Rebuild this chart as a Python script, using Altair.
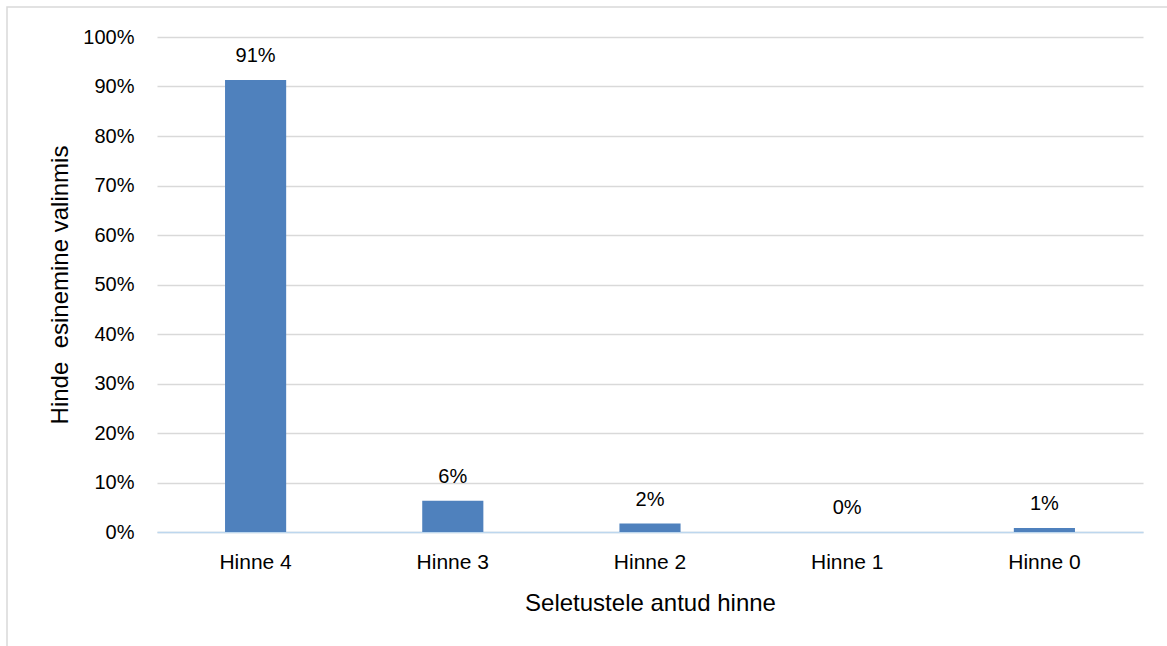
import altair as alt
import pandas as pd

categories = ["Hinne 4", "Hinne 3", "Hinne 2", "Hinne 1", "Hinne 0"]
values = [0.913, 0.063, 0.017, 0.0, 0.008]

df = pd.DataFrame({"cat": categories, "val": values})

FONT = "Liberation Sans"
W, H = 986, 495
PL, PT, PR, PB = 157, 37, 24, 114

base = alt.Chart(df)

x = alt.X(
    "cat:N",
    sort=categories,
    scale=alt.Scale(paddingInner=0.69, paddingOuter=0.345),
    axis=alt.Axis(
        title="Seletustele antud hinne",
        labelAngle=0,
        ticks=False,
        labelPadding=19,
        labelFontSize=21,
        labelFont=FONT,
        labelColor="#000000",
        domainColor="#BDD7EE",
        domainWidth=1.5,
        titleFontSize=24,
        titleFont=FONT,
        titleFontWeight="normal",
        titleColor="#000000",
        titleY=71,
        titleBaseline="middle",
    ),
)

y = alt.Y(
    "val:Q",
    scale=alt.Scale(domain=[0, 1]),
    axis=alt.Axis(
        title="Hinde\u00a0 esinemine valinmis",
        format=".0%",
        values=[i / 10 for i in range(11)],
        domain=False,
        ticks=False,
        labelPadding=23,
        labelFontSize=20,
        labelFont=FONT,
        labelColor="#000000",
        gridColor="#D9D9D9",
        gridWidth=1.3,
        titleFontSize=24,
        titleFont=FONT,
        titleFontWeight="normal",
        titleColor="#000000",
        titleX=-97,
        titleY=H / 2,
        titleAngle=-90,
        titleBaseline="middle",
        titleAlign="center",
    ),
)

bars = base.mark_bar(color="#4F81BD").encode(x=x, y=y)

labels = base.mark_text(
    dy=-24, baseline="middle", fontSize=20, font=FONT, color="#000000"
).encode(
    x=alt.X("cat:N", sort=categories),
    y=alt.Y("val:Q"),
    text=alt.Text("val:Q", format=".0%"),
)

border = alt.Chart(alt.Data(values=[{"a": 1}])).mark_rect(
    fill="transparent", stroke="#D9D9D9", strokeWidth=1.5
).encode(
    x=alt.value(-150),
    x2=alt.value(W + PR + 20),
    y=alt.value(-30),
    y2=alt.value(H + PB + 20),
)

chart = (
    alt.layer(border, bars, labels)
    .properties(
        width=W,
        height=H,
        padding={"left": PL, "top": PT, "right": PR, "bottom": PB},
        autosize=alt.AutoSizeParams(type="none"),
        background="white",
    )
    .configure_view(stroke=None)
)

chart.save("out.html", embed_options={"renderer": "svg", "actions": False})
